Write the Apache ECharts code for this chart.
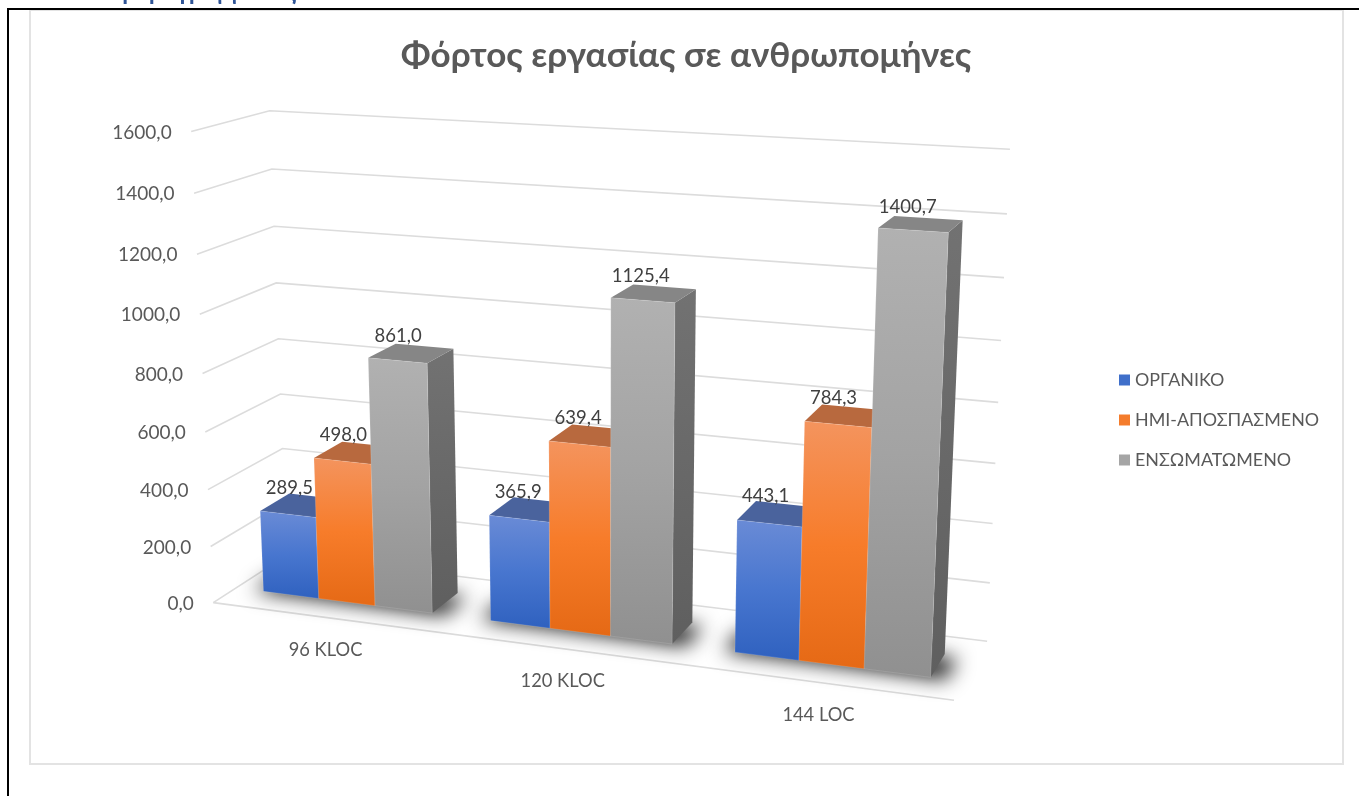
<!DOCTYPE html>
<html><head><meta charset="utf-8"><style>html,body{margin:0;background:#fff;overflow:hidden}
#c{width:1359px;height:796px;filter:blur(0.45px)}
#frame{position:absolute;left:7px;top:8px;right:0;bottom:0;border-left:2px solid #000;border-top:2px solid #000}</style>
<script src="https://cdn.jsdelivr.net/npm/echarts@6/dist/echarts.min.js"></script></head><body><div id="c"></div><div id="frame"></div>
<script>
const categories = ['96 KLOC', '120 KLOC', '144 LOC'];
const organic = [289.5, 365.9, 443.1];
const semiDetached = [498.0, 639.4, 784.3];
const embedded = [861.0, 1125.4, 1400.7];
const seriesNames = ['ΟΡΓΑΝΙΚΟ', 'ΗΜΙ-ΑΠΟΣΠΑΣΜΕΝΟ', 'ΕΝΣΩΜΑΤΩΜΕΝΟ'];
const yTicks = [0, 200, 400, 600, 800, 1000, 1200, 1400, 1600];

const FONT = 'Lato, "Noto Sans", sans-serif';
// camera of the 3-D box: (u across, v up, w into the page), all 0..1
const CAM = [638.7323, -32.35253, 91.07241, 213.2919, 22.81083, -478.1444, -12.69328, 602.6002, -0.1068837, -0.05362887, 0.06229256];
const project = (u, v, w) => {
  const d = CAM[8] * u + CAM[9] * v + CAM[10] * w + 1;
  return [(CAM[0] * u + CAM[1] * v + CAM[2] * w + CAM[3]) / d, (CAM[4] * u + CAM[5] * v + CAM[6] * w + CAM[7]) / d];
};
const FRONT = 0.30, BACK = 0.70, SHADOW_SHIFT = 3000;
const grad = stops => new echarts.graphic.LinearGradient(0, 0, 0, 1, stops.map((c, i) => ({offset: i / (stops.length - 1), color: c})));
const looks = [
  {front: ['#6a8bd6', '#4876cf', '#2f61bf'], top: '#4a639d', side: '#3a5aa0', flat: '#3f6fca'},
  {front: ['#f4945e', '#f77c2a', '#e56915'], top: '#b8693e', side: '#b35a20', flat: '#f47c2c'},
  {front: ['#b1b1b1', '#a3a3a3', '#909090'], top: '#868686', side: ['#727272', '#5f5f5f'], flat: '#a5a5a5'}
];
const fmt = v => v.toFixed(1).replace('.', ',');
// grid-space → normalised box coordinates
const norm = (api, cs, cat, val) => {
  const p = api.coord([cat, val]);
  return {u: (p[0] - cs.x) / cs.width, v: (cs.y + cs.height - p[1]) / cs.height};
};
const barWidth = (api, cs) => api.size([1, 0])[0] / cs.width / 4;

function barItem(k) {
  return (params, api) => {
    const cs = params.coordSys, n = norm(api, cs, api.value(0), api.value(1)), bw = barWidth(api, cs);
    const a = n.u + (k - 1.5) * bw, b = a + bw, t = n.v, L = looks[k];
    const edge = {stroke: 'rgba(255,255,255,0.14)', lineWidth: 1};
    return {type: 'group', children: [
      {type: 'polygon', shape: {points: [project(b, 0, FRONT), project(b, 0, BACK), project(b, t, BACK), project(b, t, FRONT)]},
        style: {fill: Array.isArray(L.side) ? grad(L.side) : L.side}},
      {type: 'polygon', shape: {points: [project(a, t, FRONT), project(b, t, FRONT), project(b, t, BACK), project(a, t, BACK)]},
        style: {fill: L.top}},
      {type: 'polygon', shape: {points: [project(a, 0, FRONT), project(b, 0, FRONT), project(b, t, FRONT), project(a, t, FRONT)]},
        style: Object.assign({fill: grad(L.front)}, edge)}
    ]};
  };
}
const barSeries = [organic, semiDetached, embedded].map((vals, k) => ({
  type: 'custom', name: seriesNames[k], coordinateSystem: 'cartesian2d', z: 5 + k, silent: true,
  itemStyle: {color: looks[k].flat}, encode: {x: 0, y: 1},
  data: vals.map((v, i) => [i, v]), renderItem: barItem(k)
}));
const gridSeries = {
  type: 'custom', coordinateSystem: 'cartesian2d', z: 1, silent: true, encode: {x: 0, y: 1},
  data: yTicks.map(t => [0, t]),
  renderItem: (params, api) => {
    const cs = params.coordSys, n = norm(api, cs, 0, api.value(1)), f = project(0, n.v, 0);
    return {type: 'group', children: [
      {type: 'polyline', shape: {points: [f, project(0, n.v, 1), project(1, n.v, 1)]}, style: {stroke: '#dcdcdc', lineWidth: 1.6, fill: null}},
      {type: 'text', x: f[0] - 19.5, y: f[1] + 1, style: {text: fmt(api.value(1)), align: 'right', verticalAlign: 'middle', fill: '#595959', fontFamily: FONT, fontSize: 19}}
    ]};
  }
};
const floorSeries = {
  type: 'custom', coordinateSystem: 'cartesian2d', z: 2, silent: true, encode: {x: 0, y: 1},
  data: categories.map((c, i) => [i, 0]),
  renderItem: (params, api) => {
    const cs = params.coordSys, n = norm(api, cs, api.value(0), 0), bw = barWidth(api, cs);
    const a = n.u - 1.5 * bw - 0.014, b = n.u + 1.5 * bw + 0.018, m = project(n.u, 0, 0);
    // the polygon itself sits off-canvas: only its blurred shadow lands on the floor
    const foot = {type: 'polygon',
      shape: {points: [project(a, 0, FRONT - 0.005), project(b, 0, FRONT - 0.005), project(b, 0, BACK - 0.05), project(a, 0, BACK - 0.05)].map(p => [p[0] - SHADOW_SHIFT, p[1]])},
      style: {fill: '#000', shadowBlur: 20, shadowOffsetX: SHADOW_SHIFT, shadowColor: 'rgba(0,0,0,0.9)'}};
    return {type: 'group', children: [
      foot,
      {type: 'text', x: m[0], y: m[1] + 32.5, style: {text: categories[api.value(0)], align: 'center', verticalAlign: 'middle', fill: '#595959', fontFamily: FONT, fontSize: 18.3}}
    ]};
  }
};
const frontEdge = {
  type: 'custom', coordinateSystem: 'cartesian2d', z: 1, silent: true, encode: {x: 0, y: 1},
  data: [[0, 0]],
  renderItem: () => ({type: 'polyline', shape: {points: [project(0, 0, 0), project(1, 0, 0)]}, style: {stroke: '#dcdcdc', lineWidth: 1.6, fill: null}})
};
const labelSeries = {
  type: 'custom', coordinateSystem: 'cartesian2d', z: 20, silent: true, encode: {x: 0, y: 1},
  data: [organic, semiDetached, embedded].flatMap((vals, k) => vals.map((v, i) => [i, v, k])),
  renderItem: (params, api) => {
    const cs = params.coordSys, n = norm(api, cs, api.value(0), api.value(1)), bw = barWidth(api, cs);
    const p = project(n.u + (api.value(2) - 1) * bw, n.v, (FRONT + BACK) / 2);
    return {type: 'text', x: p[0] - 13, y: p[1] - 17.5, style: {text: fmt(api.value(1)), align: 'center', verticalAlign: 'middle', fill: '#404040', fontFamily: FONT, fontSize: 18.5}};
  }
};

const chart = echarts.init(document.getElementById('c'), null, {renderer: 'canvas'});
chart.setOption({
  animation: false, backgroundColor: '#fff',
  title: {text: 'Φόρτος εργασίας σε ανθρωπομήνες', left: 681, top: 33, textAlign: 'center',
    textStyle: {fontFamily: FONT, fontWeight: 'bold', fontSize: 35, color: '#595959'}},
  legend: {orient: 'vertical', left: 1114, top: 366, itemWidth: 11, itemHeight: 11, itemGap: 22, icon: 'rect',
    data: seriesNames, selectedMode: false,
    textStyle: {fontFamily: FONT, fontSize: 17.9, color: '#595959'}},
  grid: {left: 213, top: 111, width: 774, height: 590},
  xAxis: {type: 'category', data: categories, show: false},
  yAxis: {type: 'value', min: 0, max: 1600, interval: 200, show: false},
  graphic: [
    {type: 'rect', z: -1, shape: {x: 30, y: 10, width: 1313, height: 754}, style: {fill: '#fff', stroke: '#e3e3e3', lineWidth: 2}},
    {type: 'text', z: 0, x: 30, y: -8, style: {text: 'Ανάλυση προγράμματος', fontFamily: FONT, fontWeight: 'bold', fontSize: 24, fill: '#2f5496', verticalAlign: 'middle'}}
  ],
  series: [gridSeries, frontEdge, floorSeries, ...barSeries, labelSeries]
});
</script></body></html>
